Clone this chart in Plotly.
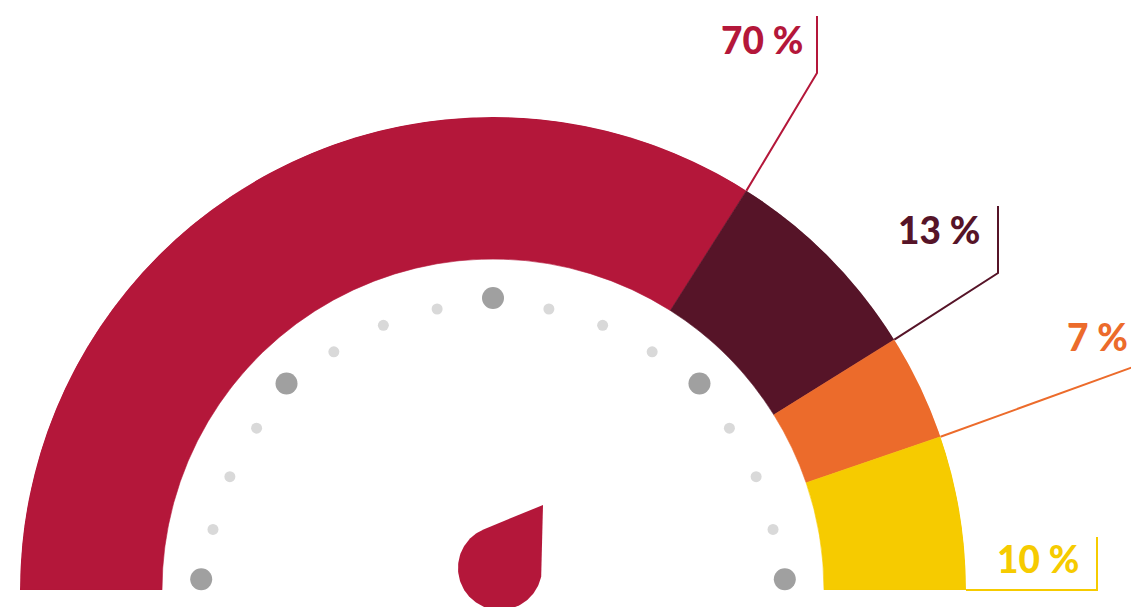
import numpy as np
import plotly.graph_objects as go

# ---------------- data ----------------
label_text = ["70 %", "13 %", "7 %", "10 %"]
arc_share = [68.0, 14.25, 7.25, 10.5]          # share of the half circle drawn per segment (%)
seg_colors = ["#B4173A", "#561428", "#EC6B2B", "#F6CB00"]

major_tick_deg = [2.1, 45, 90, 135, 177.9]
minor_tick_deg = [12.2, 23.3, 34.4, 56.25, 67.5, 78.75,
                  101.25, 112.5, 123.75, 145.6, 156.7, 167.8]

# ---------------- geometry / style ----------------
PAGE_W, PAGE_H = 1139, 607
PAGE_OFFSET = 8              # the page body margin shifts the figure by 8 px
W, H = PAGE_W - PAGE_OFFSET, PAGE_H - PAGE_OFFSET
CX, CY = 493 - PAGE_OFFSET, 590 - PAGE_OFFSET   # gauge centre in figure pixels (y down)
R_OUT, R_IN = 473, 331
R_MAJOR, R_MINOR = 292, 286.5
FONT = "Lato"

fig = go.Figure()

# ---- gauge segments (barpolar) ----
share = np.array(arc_share)
cum = np.concatenate([[0], np.cumsum(share)])
theta_c = 180 - (cum[:-1] + share / 2) * 1.8
widths = share * 1.8
fig.add_trace(go.Barpolar(
    r=[R_OUT - R_IN] * len(share), base=[R_IN] * len(share),
    theta=theta_c, width=widths,
    marker=dict(color=seg_colors, line=dict(color=seg_colors, width=0.6)),
    hoverinfo="skip", showlegend=False))

# ---- tick dots ----
fig.add_trace(go.Scatterpolar(
    r=[R_MINOR] * len(minor_tick_deg), theta=minor_tick_deg, mode="markers",
    marker=dict(size=11, color="#D9D9D9"), hoverinfo="skip", showlegend=False))
fig.add_trace(go.Scatterpolar(
    r=[R_MAJOR] * len(major_tick_deg), theta=major_tick_deg, mode="markers",
    marker=dict(size=22, color="#A0A0A0"), hoverinfo="skip", showlegend=False))

# ---- needle (cartesian overlay, units = px relative to gauge centre) ----
nc = np.array([7.0, 22.0]); nr = 42.0
tip = np.array([50.0, 85.0])
d = tip - nc
dist = np.hypot(*d)
phi = np.arctan2(d[1], d[0])
alpha = np.arccos(nr / dist)
a_start = phi - alpha
a_end = phi + alpha - 2 * np.pi
angs = np.linspace(a_start, a_end, 120)
nx = np.concatenate([[tip[0]], nc[0] + nr * np.cos(angs), [tip[0]]])
ny = np.concatenate([[tip[1]], nc[1] + nr * np.sin(angs), [tip[1]]])
fig.add_trace(go.Scatter(x=nx, y=ny, mode="lines", fill="toself",
                         fillcolor=seg_colors[0], line=dict(width=0, color=seg_colors[0]),
                         hoverinfo="skip", showlegend=False))

# ---- leader lines ----
bound = 180 - cum[1:] * 1.8
starts = [(R_OUT * np.cos(np.radians(b)), R_OUT * np.sin(np.radians(b))) for b in bound]
leader_tail = [
    [(324, 517), (324, 574)],
    [(505, 317), (505, 384)],
    [(660, 230.2)],
    [(604, 0), (604, 53)],
]
for s, tail, col in zip(starts, leader_tail, seg_colors):
    pts = [s] + tail
    fig.add_trace(go.Scatter(x=[p[0] for p in pts], y=[p[1] for p in pts], mode="lines",
                             line=dict(color=col, width=2), hoverinfo="skip", showlegend=False))

# ---- labels ----
label_pos = [(312, 550.7), (489.3, 360.3), (637.3, 254), (588.3, 32)]
for txt, (x, y), col in zip(label_text, label_pos, seg_colors):
    fig.add_annotation(x=x, y=y, xref="x", yref="y", text=txt,
                       showarrow=False, xanchor="right", yanchor="middle",
                       font=dict(family=FONT, size=37, color=col, weight=900))

fig.update_layout(
    width=W, height=H, margin=dict(l=0, r=0, t=0, b=0),
    paper_bgcolor="white", plot_bgcolor="rgba(0,0,0,0)",
    showlegend=False,
    polar=dict(
        domain=dict(x=[(CX - R_OUT) / W, (CX + R_OUT) / W],
                    y=[(H - CY) / H, (H - CY + R_OUT) / H]),
        sector=[0, 180], bgcolor="rgba(0,0,0,0)",
        radialaxis=dict(range=[0, R_OUT], visible=False, showgrid=False, showline=False,
                        showticklabels=False, ticks=""),
        angularaxis=dict(direction="counterclockwise", rotation=0, visible=False,
                         showgrid=False, showline=False, showticklabels=False, ticks=""),
    ),
    xaxis=dict(domain=[0, 1], range=[-CX, W - CX], visible=False, fixedrange=True),
    yaxis=dict(domain=[0, 1], range=[-(H - CY), CY], visible=False, fixedrange=True),
)

fig.write_html("out.html")
